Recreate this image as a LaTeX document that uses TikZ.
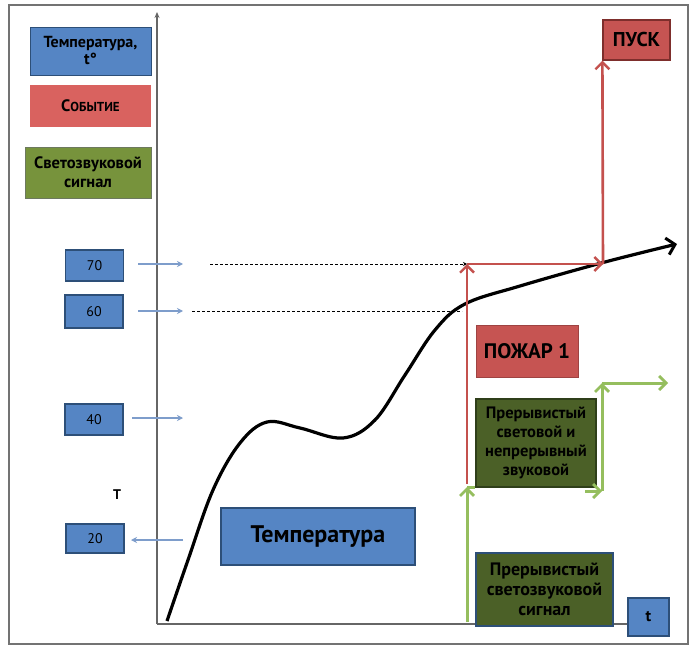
\documentclass[tikz,border=0pt]{standalone}
\usepackage{fontspec}
\setmainfont{PT Sans}
\usetikzlibrary{arrows.meta}
\definecolor{bfill}{HTML}{5585C4}
\definecolor{bdraw}{HTML}{2D4F78}
\definecolor{rfill}{HTML}{C65452}
\definecolor{rlite}{HTML}{D9625F}
\definecolor{rdraw}{HTML}{7E2E2C}
\definecolor{gdark}{HTML}{4B6027}
\definecolor{glite}{HTML}{77933C}
\definecolor{gdraw}{HTML}{2F3F1A}
\definecolor{gline}{HTML}{95BE5E}
\definecolor{rline}{HTML}{C4514E}
\definecolor{aline}{HTML}{7E9DCB}
\tikzset{
  box/.style={rectangle, inner sep=2pt, align=center, font=\bfseries, text=black},
  bluebox/.style={box, fill=bfill, draw=bdraw, line width=1.2pt},
  valbox/.style={bluebox, font=\fontsize{14}{15}\selectfont, minimum width=58pt, minimum height=31pt},
  redbox/.style={box, fill=rfill, draw=rdraw, line width=1.2pt},
  greenbox/.style={box, fill=gdark, draw=gdraw, line width=1.2pt, font=\fontsize{16.5}{19}\selectfont\bfseries},
  redarr/.style={draw=rline, line width=2.6pt, -{Straight Barb[length=7pt,width=14pt,line width=2.4pt]}},
  grnarr/.style={draw=gline, line width=3pt, -{Straight Barb[length=7pt,width=14pt,line width=2.8pt]}},
  smallarr/.style={draw=aline, line width=1.4pt, -{Stealth[length=6pt,width=6pt]}},
  dashln/.style={draw=black, line width=0.9pt, dash pattern=on 3pt off 2pt},
  axisln/.style={draw=black!60, line width=1.3pt}
}
\begin{document}
\begin{tikzpicture}[x=1pt,y=-1pt]
\useasboundingbox (0,0) rectangle (696,655);
\fill[white] (0,0) rectangle (696,655);
\draw[black!55, line width=1.2pt] (9,5) rectangle (688,644);
% axes
\coordinate (O) at (157,624);
\coordinate (ytop) at (157,12);
\node[box, fill=bfill, draw=bdraw, line width=1.2pt, minimum width=41pt, minimum height=38pt, font=\fontsize{16}{18}\selectfont\bfseries] (tbox) at (648.5,617) {t};
\draw[axisln, -{Stealth[length=6pt,width=5pt]}] (O) -- (ytop);
\draw[axisln] (O) -- (tbox.west |- O);
% legend
\node[box, fill=bfill, draw=bdraw, line width=0.8pt, minimum width=121pt, minimum height=48pt, font=\fontsize{16}{17}\selectfont\bfseries] (legT) at (90.5,51) {Температура,\\ t\textdegree};
\node[box, fill=rlite, minimum width=121pt, minimum height=42pt, font=\fontsize{16.5}{18}\selectfont\bfseries] (legE) at (90.5,106) {С{\fontsize{13}{15}\selectfont ОБЫТИЕ}};
\node[box, fill=glite, draw=gdraw!70, line width=0.8pt, minimum width=126pt, minimum height=51pt, font=\fontsize{16.5}{19}\selectfont\bfseries] (legS) at (88,172.5) {Светозвуковой\\ сигнал};
% value boxes
\node[valbox] (v70) at (94.5,265.5) {70};
\node[valbox, minimum height=33pt] (v60) at (94,311.5) {60};
\node[valbox] (v40) at (94,419.5) {40};
\node[valbox, minimum height=29pt] (v20) at (95,538.5) {20};
\node[font=\fontsize{14}{15}\selectfont\bfseries] (Tlab) at (117,495) {Т};
% small arrows
\coordinate (a70s) at (138,264); \coordinate (a70e) at (183,264);
\coordinate (a60s) at (138,311); \coordinate (a60e) at (183,311);
\coordinate (a40s) at (132,418); \coordinate (a40e) at (183,418);
\coordinate (a20s) at (183,540); \coordinate (a20e) at (131,540);
\draw[smallarr] (a70s) -- (a70e);
\draw[smallarr] (a60s) -- (a60e);
\draw[smallarr] (a40s) -- (a40e);
\draw[smallarr] (a20s) -- (a20e);
% dashed guides
\coordinate (d70s) at (210,264); \coordinate (P1) at (467,264);
\coordinate (d60s) at (192,311); \coordinate (d60e) at (462,311);
\draw[dashln, -{Stealth[length=4pt,width=4pt]}] (d70s) -- (P1);
\draw[dashln] (d60s) -- (d60e);
% temperature curve
\draw[line width=3.2pt, -{Straight Barb[length=8pt,width=17pt,line width=3pt]}]
  plot[smooth, tension=0.6] coordinates {(167,621) (188,560) (213,490) (240,443) (267,422) (300,428) (343,438) (375,420) (405,375) (435,330) (465,304) (520,286) (605,262) (677,244)};
% boxes
\node[bluebox, minimum width=194pt, minimum height=57pt, font=\fontsize{24}{26}\selectfont\bfseries] (temp) at (318,536.5) {Температура};
\node[redbox, minimum width=67pt, minimum height=40pt, font=\fontsize{20}{22}\selectfont\bfseries] (pusk) at (636.5,40) {ПУСК};
\node[redbox, draw=rfill!80!black, line width=0.6pt, minimum width=102pt, minimum height=52pt, font=\fontsize{21}{23}\selectfont\bfseries] (pozhar) at (527,351) {ПОЖАР 1};
\node[greenbox, minimum width=120pt, minimum height=88pt] (g1) at (536,443) {Прерывистый\\ световой и\\ непрерывный\\ звуковой};
\node[greenbox, draw=bdraw, minimum width=137pt, minimum height=73pt, font=\fontsize{18}{20}\selectfont\bfseries] (g2) at (544.5,589.5) {Прерывистый\\ светозвуковой\\ сигнал};
% red connectors
\coordinate (R0) at (467,484);
\coordinate (P2) at (603,264);
\draw[redarr] (R0) -- (P1);
\draw[redarr] (P1) -- (P2);
\draw[redarr] (P2) -- (pusk.south west);
% green connectors
\coordinate (G0) at (467,622);
\coordinate (G1) at (467,487);
\coordinate (G2) at (585,491);
\coordinate (G3) at (602,491);
\coordinate (G4) at (602,383);
\coordinate (G5) at (668,383);
\draw[grnarr] (G0) -- (G1);
\draw[draw=gline, line width=3pt] (G1) -- (g1.west |- G1);
\draw[grnarr] (G2) -- (G3);
\draw[grnarr] (G3) -- (G4);
\draw[grnarr] (G4) -- (G5);
\end{tikzpicture}
\end{document}
